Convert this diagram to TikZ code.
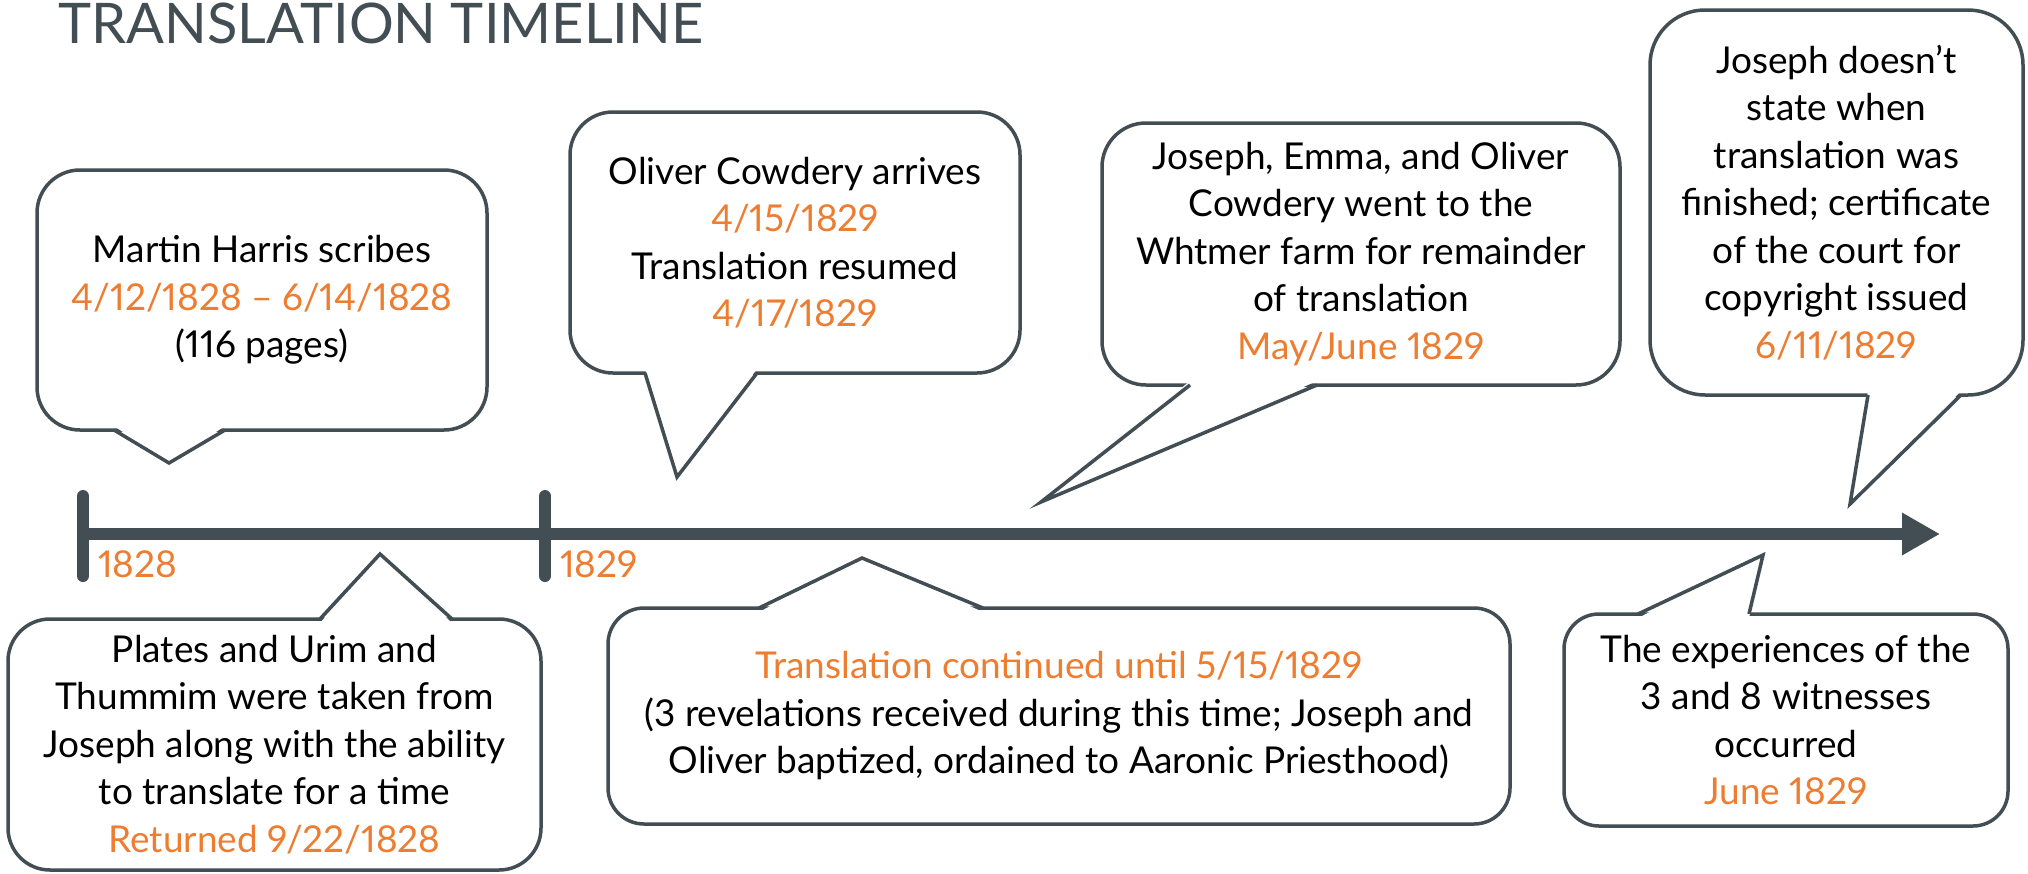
\documentclass[tikz,border=0pt]{standalone}
\usepackage{fontspec}
\setmainfont{Lato}[Numbers=Proportional]
\usetikzlibrary{arrows.meta}
\definecolor{slate}{HTML}{434D54}
\definecolor{datecol}{HTML}{ED7D31}

\begin{document}
\begin{tikzpicture}[x=1pt, y=-1pt,
  every node/.style={font=\fontsize{37}{47.5}\selectfont},
  bubble/.style={draw=slate, line width=3.5pt, fill=white, align=center, inner sep=0pt, outer sep=0pt},
  pointer/.style={draw=slate, line width=3.5pt, line join=miter},
  gap/.style={fill=white},
  year/.style={text=datecol, anchor=base west, inner sep=0pt},
  tick/.style={draw=slate, line width=12pt, line cap=round}]
  \useasboundingbox[fill=white] (0,0) rectangle (2028,873);

  \node[anchor=base west, inner sep=0pt, text=slate, font=\fontsize{56}{60}\selectfont] (title) at (58,43) {TRANSLATION TIMELINE};

  \coordinate (start) at (83,534);
  \coordinate (end) at (1940,534);
  \draw[slate, line width=12pt, -{Triangle[length=38pt, width=40pt]}] (start) -- (end);
  \draw[tick] (83,496) -- (83,576);
  \draw[tick] (545,496) -- (545,576);
  \node[year] (y1828) at (98,577) {1828};
  \node[year] (y1829) at (560,577) {1829};

  \node[bubble, minimum width=450, minimum height=260, rounded corners=43] (harris) at (262,300)
    {Martin Harris scribes\\ \textcolor{datecol}{4/12/1828 – 6/14/1828}\\ (116 pages)};
  \coordinate (harris tip) at (169,463);
  \fill[gap] ([xshift=77,yshift=4]harris.south west) -- (harris tip) -- ([xshift=188,yshift=4]harris.south west);
  \draw[pointer] ([xshift=77]harris.south west) -- (harris tip) -- ([xshift=188]harris.south west);

  \node[bubble, minimum width=450, minimum height=261, rounded corners=43] (cowdery) at (795,242.5)
    {Oliver Cowdery arrives\\ \textcolor{datecol}{4/15/1829}\\ Translation resumed\\ \textcolor{datecol}{4/17/1829}};
  \coordinate (cowdery tip) at (677,477);
  \fill[gap] ([xshift=75,yshift=4]cowdery.south west) -- (cowdery tip) -- ([xshift=187,yshift=4]cowdery.south west);
  \draw[pointer] ([xshift=75]cowdery.south west) -- (cowdery tip) -- ([xshift=187]cowdery.south west);

  \node[bubble, minimum width=518, minimum height=262, rounded corners=44] (whitmer) at (1361,254)
    {Joseph, Emma, and Oliver\\ Cowdery went to the\\ Whtmer farm for remainder\\ of translation\\ \textcolor{datecol}{May/June 1829}};
  \coordinate (whitmer tip) at (1041,502);
  \fill[gap] ([xshift=88,yshift=4]whitmer.south west) -- (whitmer tip) -- ([xshift=215,yshift=4]whitmer.south west);
  \draw[pointer] ([xshift=88]whitmer.south west) -- (whitmer tip) -- ([xshift=215]whitmer.south west);

  \node[bubble, minimum width=373, minimum height=385, rounded corners=55] (copyright) at (1836.5,202.5)
    {Joseph doesn’t\\ state when\\ translation was\\ finished; certificate\\ of the court for\\ copyright issued\\ \textcolor{datecol}{6/11/1829}};
  \coordinate (copyright tip) at (1850,504);
  \fill[gap] ([xshift=218,yshift=4]copyright.south west) -- (copyright tip) -- ([xshift=311,yshift=4]copyright.south west);
  \draw[pointer] ([xshift=218]copyright.south west) -- (copyright tip) -- ([xshift=311]copyright.south west);

  \node[bubble, minimum width=533, minimum height=251, rounded corners=42] (plates) at (274.5,744.5)
    {Plates and Urim and\\ Thummim were taken from\\ Joseph along with the ability\\ to translate for a time\\ \textcolor{datecol}{Returned 9/22/1828}};
  \coordinate (plates tip) at (380,554);
  \fill[gap] ([xshift=312,yshift=-4]plates.north west) -- (plates tip) -- ([xshift=444,yshift=-4]plates.north west);
  \draw[pointer] ([xshift=312]plates.north west) -- (plates tip) -- ([xshift=444]plates.north west);

  \node[bubble, minimum width=902, minimum height=216, rounded corners=36] (continued) at (1059,716)
    {\textcolor{datecol}{Translation continued until 5/15/1829}\\ (3 revelations received during this time; Joseph and\\ Oliver baptized, ordained to Aaronic Priesthood)};
  \coordinate (continued tip) at (862,558);
  \fill[gap] ([xshift=151,yshift=-4]continued.north west) -- (continued tip) -- ([xshift=375,yshift=-4]continued.north west);
  \draw[pointer] ([xshift=151]continued.north west) -- (continued tip) -- ([xshift=375]continued.north west);

  \node[bubble, minimum width=444, minimum height=212, rounded corners=35] (witnesses) at (1786,720)
    {The experiences of the\\ 3 and 8 witnesses\\ occurred\\ \textcolor{datecol}{June 1829}};
  \coordinate (witnesses tip) at (1763,555);
  \fill[gap] ([xshift=74,yshift=-4]witnesses.north west) -- (witnesses tip) -- ([xshift=185,yshift=-4]witnesses.north west);
  \draw[pointer] ([xshift=74]witnesses.north west) -- (witnesses tip) -- ([xshift=185]witnesses.north west);
\end{tikzpicture}
\end{document}
